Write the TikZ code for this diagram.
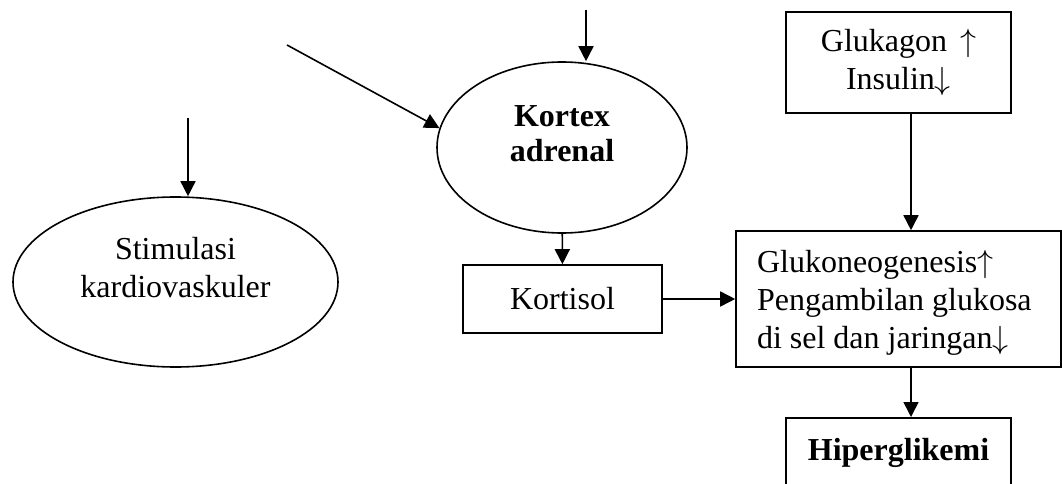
\documentclass[tikz,border=0pt]{standalone}
\usepackage{fontspec}
\setmainfont{Liberation Serif}
\DeclareFontShape{OMS}{cmsy}{m}{n}{<->cmsy10}{}
\usetikzlibrary{shapes.geometric,arrows.meta}
\begin{document}
\begin{tikzpicture}[x=1pt,y=-1pt,
  every node/.style={font=\fontsize{32}{38}\selectfont, line width=1.6pt},
  oval/.style={draw, ellipse, inner sep=0pt},
  box/.style={draw, rectangle, inner sep=0pt},
  arr/.style={line width=1.6pt, -{Triangle[length=15pt,width=15pt]}},
  txt/.style={inner sep=0pt, align=center}]
\useasboundingbox (0,0) rectangle (1062,484);
% nodes
\node[oval, minimum width=250, minimum height=171] (kortex) at (562,147.5) {};
\node[txt, font=\fontsize{32}{35}\selectfont\bfseries] (kortextxt) at (562,134) {Kortex\\adrenal};
\node[oval, minimum width=325, minimum height=170] (stim) at (175.5,282) {};
\node[txt] (stimtxt) at (175.5,268) {Stimulasi\\kardiovaskuler};
\node[box, minimum width=199, minimum height=68] (kortisol) at (562.5,299) {Kortisol};
\node[box, minimum width=225, minimum height=101, align=center] (glukagon) at (898.5,62.5) {Glukagon\hspace{13pt}$\uparrow$\\Insulin$\downarrow$};
\node[box, text width=283pt, inner xsep=21pt, minimum height=136, align=flush left] (glukoneo) at (898.5,299)
  {\rule{0pt}{30pt}Glukoneogenesis$\uparrow$\\Pengambilan glukosa\\di sel dan jaringan$\downarrow$};
\node[box, anchor=north, minimum width=225, text height=35pt, text depth=70pt, inner ysep=8pt, font=\fontsize{32}{38}\selectfont\bfseries] (hiper) at (898.5,417) {Hiperglikemi};
% free ends
\coordinate (topin) at (586,10);
\coordinate (diagin) at (287,45);
\coordinate (stimin) at (188,118);
% connectors
\draw[arr] (topin) -- (topin |- kortex.north);
\draw[arr] (diagin) -- (kortex.171);
\draw[arr] (stimin) -- (stimin |- stim.north);
\draw[arr] (kortex) -- (kortisol);
\draw[arr] (kortisol) -- (glukoneo);
\draw[arr] ([xshift=12.5pt]glukagon.south) -- ([xshift=12.5pt]glukoneo.north);
\draw[arr] ([xshift=12.5pt]glukoneo.south) -- ([xshift=12.5pt]hiper.north);
\end{tikzpicture}
\end{document}
